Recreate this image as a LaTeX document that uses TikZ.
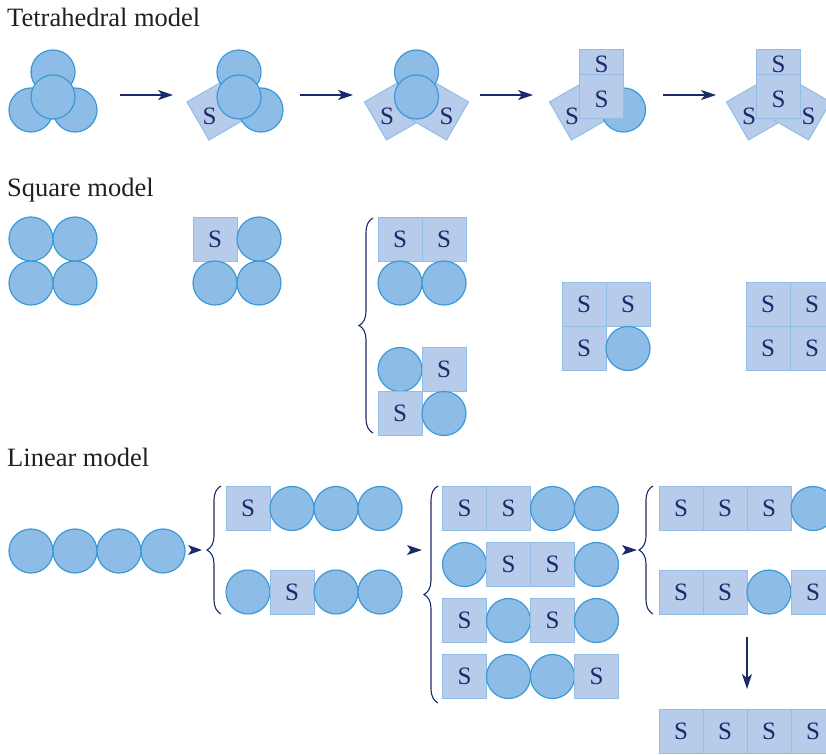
\documentclass[tikz,border=0pt]{standalone}
\usepackage{fontspec}
\setmainfont{Liberation Serif}
\usetikzlibrary{arrows.meta,decorations.pathreplacing}
\definecolor{cfill}{HTML}{8DBDE6}
\definecolor{cline}{HTML}{3B99D8}
\definecolor{sfill}{HTML}{B7CBEA}
\definecolor{sline}{HTML}{92BEE6}
\definecolor{navy}{HTML}{1B2A6B}
\definecolor{ttl}{HTML}{231F20}
\begin{document}
\begin{tikzpicture}[x=1pt,y=-1pt,
  ball/.style={circle,minimum size=44pt,inner sep=0pt,fill=cfill,draw=cline,line width=1.2pt},
  sq/.style={rectangle,minimum size=44pt,inner sep=0pt,fill=sfill,draw=sline,line width=1pt,text=navy,font=\fontsize{25}{25}\selectfont},
  lab/.style={inner sep=0pt,text=navy,font=\fontsize{25}{25}\selectfont},
  title/.style={anchor=base west,inner sep=0pt,text=ttl,font=\fontsize{26.5}{30}\selectfont},
  arr/.style={draw=navy,line width=1.4pt,-{Stealth[length=15pt,width=10pt,inset=4pt]}},
  brc/.style={draw=navy,line width=1.1pt,decorate,decoration={brace,amplitude=14pt}},
  head/.style={fill=navy}
]
\useasboundingbox (0,0) rectangle (826,754);
\clip (0,0) rectangle (826,754);

% ---------- Titles
\node[title] (tt) at (7,26.7) {Tetrahedral model};
\node[title] (ts) at (7,196) {Square model};
\node[title] (tl) at (7,466.5) {Linear model};

% ---------- Tetrahedral model
% cluster 1
\node[ball] (t1a) at (53,72) {};
\node[ball] (t1b) at (31,110) {};
\node[ball] (t1c) at (75,110) {};
\node[ball] (t1d) at (53,97) {};
% cluster 2
\node[sq,rotate=30] (t2b) at (217,110) {};
\node[ball] (t2a) at (239,72) {};
\node[ball] (t2c) at (261,110) {};
\node[ball] (t2d) at (239,97) {};
\node[lab] (t2bl) at (209.5,116) {S};
% cluster 3
\node[sq,rotate=30] (t3b) at (394.5,110) {};
\node[sq,rotate=-30] (t3c) at (438.5,110) {};
\node[ball] (t3a) at (416.5,72) {};
\node[ball] (t3d) at (416.5,97) {};
\node[lab] (t3bl) at (387,116) {S};
\node[lab] (t3cl) at (446.5,116) {S};
% cluster 4
\node[sq,rotate=30] (t4b) at (579.5,110) {};
\node[ball] (t4c) at (623.5,110) {};
\node[sq] (t4a) at (601.5,72) {};
\node[sq] (t4d) at (601.5,97) {};
\node[lab] (t4al) at (601.5,64) {S};
\node[lab] (t4dl) at (601.5,99) {S};
\node[lab] (t4bl) at (572,116) {S};
% cluster 5
\node[sq,rotate=30] (t5b) at (756.5,110) {};
\node[sq,rotate=-30] (t5c) at (800.5,110) {};
\node[sq] (t5a) at (778.5,72) {};
\node[sq] (t5d) at (778.5,97) {};
\node[lab] (t5al) at (778.5,64) {S};
\node[lab] (t5dl) at (778.5,99) {S};
\node[lab] (t5bl) at (749,116) {S};
\node[lab] (t5cl) at (808.5,116) {S};
% arrows
\coordinate (a1s) at (120,95); \coordinate (a1e) at (173,95);
\coordinate (a2s) at (300,95); \coordinate (a2e) at (353,95);
\coordinate (a3s) at (480,95); \coordinate (a3e) at (533,95);
\coordinate (a4s) at (663,95); \coordinate (a4e) at (716,95);
\draw[arr] (a1s) -- (a1e);
\draw[arr] (a2s) -- (a2e);
\draw[arr] (a3s) -- (a3e);
\draw[arr] (a4s) -- (a4e);

% ---------- Square model
\node[ball] (sa1) at (31,239) {};
\node[ball] (sa2) at (75,239) {};
\node[ball] (sa3) at (31,283) {};
\node[ball] (sa4) at (75,283) {};

\node[sq] (sb1) at (215,239) {S};
\node[ball] (sb2) at (259,239) {};
\node[ball] (sb3) at (215,283) {};
\node[ball] (sb4) at (259,283) {};

\coordinate (sbt) at (373,218); \coordinate (sbb) at (373,433);
\draw[brc] (sbb) -- (sbt);

\node[sq] (sc1) at (400,239) {S};
\node[sq] (sc2) at (444,239) {S};
\node[ball] (sc3) at (400,283) {};
\node[ball] (sc4) at (444,283) {};

\node[ball] (sd1) at (400,369.5) {};
\node[sq] (sd2) at (444,369.5) {S};
\node[sq] (sd3) at (400,413.5) {S};
\node[ball] (sd4) at (444,413.5) {};

\node[sq] (se1) at (584,304.5) {S};
\node[sq] (se2) at (628,304.5) {S};
\node[sq] (se3) at (584,348.5) {S};
\node[ball] (se4) at (628,348.5) {};

\node[sq] (sf1) at (768,304.5) {S};
\node[sq] (sf2) at (812,304.5) {S};
\node[sq] (sf3) at (768,348.5) {S};
\node[sq] (sf4) at (812,348.5) {S};

% ---------- Linear model
\node[ball] (l01) at (31,551) {};
\node[ball] (l02) at (75,551) {};
\node[ball] (l03) at (119,551) {};
\node[ball] (l04) at (163,551) {};

\coordinate (h1) at (188,550);
\fill[head] (h1) ++(0,-5) -- ++(14,5) -- ++(-14,5) -- ++(3.5,-5) -- cycle;

\coordinate (b1t) at (221,486); \coordinate (b1b) at (221,614);
\draw[brc] (b1b) -- (b1t);

\node[sq] (l11) at (248,508.5) {S};
\node[ball] (l12) at (292,508.5) {};
\node[ball] (l13) at (336,508.5) {};
\node[ball] (l14) at (380,508.5) {};

\node[ball] (l21) at (248,592) {};
\node[sq] (l22) at (292,592) {S};
\node[ball] (l23) at (336,592) {};
\node[ball] (l24) at (380,592) {};

\coordinate (h2) at (407,550);
\fill[head] (h2) ++(0,-5) -- ++(15,5) -- ++(-15,5) -- ++(3.5,-5) -- cycle;

\coordinate (b2t) at (438,486); \coordinate (b2b) at (438,703);
\draw[brc] (b2b) -- (b2t);

\node[sq] (m11) at (464.5,508.5) {S};
\node[sq] (m12) at (508.5,508.5) {S};
\node[ball] (m13) at (552.5,508.5) {};
\node[ball] (m14) at (596.5,508.5) {};

\node[ball] (m21) at (464.5,564.5) {};
\node[sq] (m22) at (508.5,564.5) {S};
\node[sq] (m23) at (552.5,564.5) {S};
\node[ball] (m24) at (596.5,564.5) {};

\node[sq] (m31) at (464.5,620.5) {S};
\node[ball] (m32) at (508.5,620.5) {};
\node[sq] (m33) at (552.5,620.5) {S};
\node[ball] (m34) at (596.5,620.5) {};

\node[sq] (m41) at (464.5,676.5) {S};
\node[ball] (m42) at (508.5,676.5) {};
\node[ball] (m43) at (552.5,676.5) {};
\node[sq] (m44) at (596.5,676.5) {S};

\coordinate (h3) at (622,550);
\fill[head] (h3) ++(0,-5) -- ++(15,5) -- ++(-15,5) -- ++(3.5,-5) -- cycle;

\coordinate (b3t) at (653,486); \coordinate (b3b) at (653,614);
\draw[brc] (b3b) -- (b3t);

\node[sq] (n11) at (681,508.5) {S};
\node[sq] (n12) at (725,508.5) {S};
\node[sq] (n13) at (769,508.5) {S};
\node[ball] (n14) at (813,508.5) {};

\node[sq] (n21) at (681,592) {S};
\node[sq] (n22) at (725,592) {S};
\node[ball] (n23) at (769,592) {};
\node[sq] (n24) at (813,592) {S};

\coordinate (ds) at (747,637); \coordinate (de) at (747,689);
\draw[arr] (ds) -- (de);

\node[sq] (p1) at (681,731.5) {S};
\node[sq] (p2) at (725,731.5) {S};
\node[sq] (p3) at (769,731.5) {S};
\node[sq] (p4) at (813,731.5) {S};
\end{tikzpicture}
\end{document}
